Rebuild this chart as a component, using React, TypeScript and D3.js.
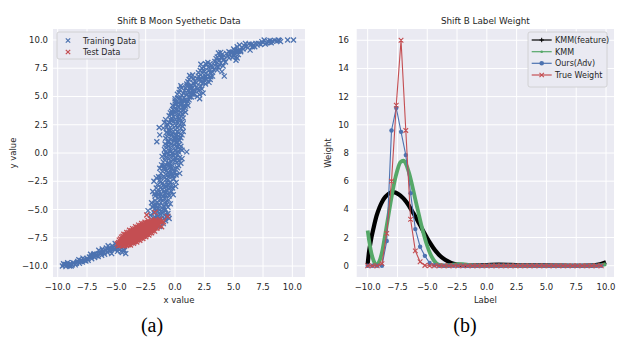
import React from 'react';
import * as d3 from 'd3';

// ---------- data ----------
const axisTicks = [-10, -7.5, -5, -2.5, 0, 2.5, 5, 7.5, 10];
const weightTicks = [0, 2, 4, 6, 8, 10, 12, 14, 16];

const trainPoints: [number, number][] = [
  [-9.6,-10.0],[-9.45,-9.9],[-9.3,-10.05],[-9.2,-9.85],[-9.05,-9.95],[-8.95,-9.8],[-8.85,-10.0],[-8.75,-9.9],[-9.5,-9.8],[-9.15,-9.7],[-8.6,-9.75],[-8.5,-9.9],
  [-8.3,-9.6],[-8.15,-9.75],[-8.0,-9.5],[-7.9,-9.65],[-7.75,-9.4],[-7.6,-9.55],[-7.5,-9.3],[-7.85,-9.3],[-8.2,-9.45],[-7.4,-9.5],
  [-7.3,-9.2],[-7.1,-9.35],[-7.0,-9.1],[-6.85,-9.25],[-6.7,-8.95],[-6.55,-9.15],[-6.4,-8.85],[-6.25,-9.05],[-6.1,-8.7],[-6.0,-8.95],[-6.9,-8.9],[-7.2,-8.95],[-6.5,-8.6],[-6.2,-8.5],
  [-5.9,-8.6],[-5.75,-8.8],[-5.6,-8.4],[-5.5,-8.65],[-5.35,-8.2],[-5.2,-8.5],[-5.1,-8.0],[-5.0,-8.3],[-5.7,-8.2],[-5.4,-8.9],[-4.9,-8.7],[-4.7,-8.55],[-4.5,-8.8],[-4.3,-8.6],[-4.2,-8.9],
  [-9.35,-9.85],[-9.0,-10.0],[-8.7,-9.7],[-8.4,-9.75],[-8.05,-9.6],[-7.7,-9.5],[-7.45,-9.4],[-7.15,-9.2],[-6.95,-9.0],[-6.75,-9.1],[-6.35,-8.95],[-6.05,-8.8],[-5.85,-8.4],[-5.55,-8.55],[-5.3,-8.4],[-5.05,-8.5],[-4.8,-8.4],[-4.6,-8.7],[-4.4,-8.55],
  [-4.6,-8.0],[-4.2,-7.8],[-3.8,-7.6],[-3.4,-7.3],[-3.0,-7.0],[-2.6,-6.7],[-2.2,-6.4],[-1.9,-6.1],[-4.4,-8.3],[-3.6,-7.9],[-2.8,-7.3],[-2.0,-6.8],[-1.6,-6.3],[-1.3,-6.5],[-1.1,-6.0],[-0.9,-5.8],[-1.7,-5.7],[-1.4,-5.9],
  [-1.9,-5.95],[-1.55,-5.85],[-1.2,-5.85],[-1.0,-6.25],[-0.8,-6.0],[-0.6,-5.6],
  [-2.1,-5.5],[-1.8,-5.3],[-1.5,-5.6],[-1.2,-5.2],[-0.9,-5.5],[-0.6,-5.35],[-1.6,-5.0],[-1.3,-5.7],[-1.0,-5.0],[-0.5,-5.8],[-2.3,-5.1],
  [-1.85,-5.75],[-1.55,-5.45],[-1.25,-5.45],[-0.95,-5.25],[-0.75,-5.65],[-1.45,-5.15],[-1.75,-4.95],[-1.1,-4.85],[-0.7,-4.55],[-1.5,-4.35],[-1.05,-4.25],[-0.55,-4.15],[-1.85,-4.6],[-1.35,-4.65],[-0.8,-5.0],
  [-1.9,-4.8],[-1.6,-4.6],[-1.4,-4.9],[-1.2,-4.4],[-1.0,-4.7],[-0.8,-4.3],[-0.6,-4.8],[-1.7,-4.2],[-1.3,-4.1],[-0.4,-4.5],[-2.0,-4.4],[-0.9,-4.0],
  [-1.7,-3.8],[-1.5,-3.5],[-1.3,-3.9],[-1.1,-3.2],[-0.9,-3.6],[-0.7,-3.3],[-0.5,-3.8],[-0.3,-3.4],[-1.6,-3.1],[-1.2,-3.6],[-0.8,-3.0],[-0.2,-3.1],[-1.9,-3.4],
  [-1.4,-3.7],[-1.0,-3.85],[-0.6,-3.6],[-0.4,-3.1],[-1.2,-3.05],[-0.95,-3.4],[-1.45,-3.25],[-0.75,-3.75],[-0.15,-3.7],[-1.75,-3.6],
  [-1.5,-2.8],[-1.3,-2.4],[-1.1,-2.7],[-0.9,-2.2],[-0.7,-2.6],[-0.5,-2.1],[-0.3,-2.8],[-0.1,-2.3],[-1.4,-2.1],[-0.8,-2.9],[-0.6,-2.4],[0.1,-2.6],[-1.8,-2.5],
  [-1.2,-2.55],[-1.0,-2.9],[-0.75,-2.35],[-0.4,-2.55],[-0.2,-2.05],[-1.25,-2.15],[-0.55,-2.85],[-0.95,-2.05],[0.05,-2.95],[-1.6,-2.2],
  [-1.2,-1.8],[-1.0,-1.4],[-0.8,-1.9],[-0.6,-1.2],[-0.4,-1.6],[-0.2,-1.1],[0.0,-1.7],[0.2,-1.3],[-0.9,-1.1],[-0.5,-1.9],[-0.3,-1.4],[0.4,-1.8],[-1.3,-1.35],
  [-1.05,-1.65],[-0.7,-1.55],[-0.45,-1.25],[-0.1,-1.45],[0.1,-1.95],[-0.85,-1.25],[-0.3,-1.85],[0.3,-1.1],[-1.15,-1.05],[-0.6,-1.75],
  [-1.0,-0.8],[-0.8,-0.4],[-0.6,-0.9],[-0.4,-0.2],[-0.2,-0.6],[0.0,-0.1],[0.2,-0.8],[0.4,-0.4],[-0.7,-0.05],[-0.3,-0.8],[0.1,-0.45],[0.5,-0.9],[-1.1,-0.3],
  [-0.85,-0.65],[-0.5,-0.5],[-0.15,-0.3],[0.25,-0.15],[-0.45,-0.95],[0.0,-0.7],[0.35,-0.65],[-0.9,-0.15],[-0.25,-0.05],[0.6,-0.5],
  [-0.9,0.3],[-0.7,0.7],[-0.5,0.2],[-0.3,0.8],[-0.1,0.4],[0.1,0.9],[0.3,0.1],[0.5,0.6],[-0.6,0.95],[-0.2,0.05],[0.2,0.5],[-0.8,0.1],[1.0,0.1],[0.6,0.25],
  [-0.75,0.45],[-0.4,0.5],[-0.05,0.7],[0.35,0.75],[-0.55,0.6],[0.05,0.2],[0.45,0.35],[-0.35,0.15],[0.15,0.65],[-0.85,0.8],
  [-0.8,1.3],[-0.6,1.7],[-0.4,1.2],[-0.2,1.8],[0.0,1.4],[0.2,1.9],[0.4,1.1],[0.6,1.6],[-0.5,1.95],[-0.1,1.05],[0.3,1.5],[-1.55,1.0],[-1.3,1.6],
  [-0.65,1.45],[-0.3,1.55],[0.1,1.65],[0.5,1.35],[-0.55,1.1],[-0.05,1.25],[0.35,1.8],[0.7,1.9],[-0.75,1.8],[0.15,1.15],
  [-0.7,2.3],[-0.5,2.7],[-0.3,2.1],[-0.1,2.8],[0.1,2.4],[0.3,2.9],[0.5,2.2],[0.7,2.6],[-0.4,2.95],[0.0,2.05],[0.4,2.5],[-1.35,2.25],[-0.9,2.7],[-1.0,2.2],
  [-0.6,2.5],[-0.2,2.45],[0.2,2.2],[0.6,2.75],[-0.25,2.85],[0.25,2.65],[0.65,2.35],[-0.55,2.05],[0.05,2.95],[-0.8,2.95],
  [-0.5,3.3],[-0.3,3.7],[-0.1,3.2],[0.1,3.8],[0.3,3.4],[0.5,3.9],[0.7,3.1],[0.9,3.6],[0.0,3.95],[0.4,3.05],[-0.2,3.5],[0.6,3.45],
  [-0.4,3.55],[0.0,3.55],[0.35,3.75],[0.75,3.8],[-0.3,3.1],[0.2,3.15],[0.55,3.25],[0.85,3.95],[-0.15,3.85],[0.45,3.6],
  [-0.2,4.2],[0.0,4.6],[0.2,4.1],[0.4,4.8],[0.6,4.3],[0.8,4.9],[1.0,4.4],[1.2,4.7],[0.3,4.45],[0.7,4.65],[1.4,4.95],[-0.1,4.1],[0.9,4.15],
  [0.1,4.35],[0.5,4.55],[0.85,4.7],[1.1,4.2],[0.25,4.85],[0.65,4.1],[1.25,4.95],[0.0,4.8],[0.45,4.25],[1.05,4.6],
  [0.2,5.2],[0.4,5.6],[0.6,5.1],[0.8,5.5],[1.0,5.9],[1.2,5.3],[1.4,5.7],[1.6,5.2],[1.8,5.8],[2.0,5.5],[2.2,5.9],[0.9,5.75],[1.5,5.45],[2.4,5.3],[0.5,5.95],[2.1,4.8],[1.9,5.0],
  [0.35,5.35],[0.7,5.3],[1.1,5.55],[1.3,5.95],[1.7,5.5],[2.1,5.15],[0.55,5.75],[0.95,5.15],[1.45,5.2],[1.95,5.7],[2.3,5.65],[1.25,5.75],
  [1.0,6.1],[1.2,6.5],[1.4,6.0],[1.6,6.6],[1.8,6.2],[2.0,6.8],[2.2,6.3],[2.4,6.7],[2.6,6.1],[2.8,6.9],[3.0,6.5],[1.5,6.9],[2.5,6.45],[3.2,6.8],[1.9,6.55],
  [1.1,6.3],[1.35,6.7],[1.7,6.35],[2.1,6.55],[2.35,6.2],[2.7,6.5],[2.9,6.25],[1.6,6.15],[2.2,6.9],[2.6,6.8],[1.25,6.85],[3.05,6.75],
  [2.0,7.1],[2.3,7.5],[2.5,7.2],[2.7,7.8],[2.9,7.3],[3.1,7.7],[3.3,7.4],[3.5,7.9],[3.7,7.6],[3.9,7.95],[2.8,8.0],[2.6,7.05],[4.1,7.7],[3.2,7.15],[4.2,6.8],[4.0,7.2],[2.2,7.85],
  [2.15,7.3],[2.45,7.6],[2.85,7.55],[3.25,7.6],[3.6,7.35],[3.8,7.8],[2.6,7.9],[3.0,7.9],[3.4,7.75],[2.4,7.3],[3.0,7.1],[3.6,8.0],
  [3.4,8.1],[3.6,8.5],[3.8,8.2],[4.0,8.7],[4.2,8.3],[4.4,8.8],[4.6,8.4],[4.8,8.9],[5.0,8.6],[5.2,9.0],[5.4,8.7],[4.3,8.05],[3.7,8.85],[5.6,8.95],[5.2,8.2],[5.3,8.4],
  [3.5,8.35],[3.9,8.45],[4.1,8.2],[4.5,8.55],[4.7,8.7],[4.9,8.45],[5.1,8.8],[4.2,8.6],[3.9,8.9],[4.6,8.95],[5.4,9.0],
  [5.0,9.2],[5.3,9.4],[5.6,9.1],[5.9,9.5],[6.2,9.3],[6.5,9.6],[6.8,9.4],[6.0,9.7],[5.5,9.55],[6.4,9.1],[7.0,9.55],
  [5.1,9.05],[5.7,9.35],[6.1,9.45],[6.6,9.4],[6.3,9.65],[6.9,9.7],[7.3,9.6],[7.8,9.75],[8.3,9.9],[5.8,9.2],[6.7,9.55],[7.5,9.75],[8.1,9.95],[8.9,9.95],
  [7.1,9.7],[7.4,9.85],[7.7,9.65],[7.9,9.9],[8.2,9.75],[8.5,9.95],[8.8,10.0],[9.0,9.85],[7.6,10.0],[8.0,9.8],[8.7,9.9],[9.6,10.0],[10.1,10.0],
];

const testPoints: [number, number][] = [
  [-4.81,-8.21],[-4.91,-8.03],
  [-4.45,-8.23],[-4.55,-8.05],[-4.65,-7.88],[-4.75,-7.71],
  [-4.12,-8.19],[-4.23,-8.0],[-4.34,-7.82],[-4.45,-7.63],[-4.56,-7.44],
  [-3.8,-8.14],[-3.91,-7.95],[-4.03,-7.76],[-4.14,-7.57],[-4.25,-7.38],[-4.36,-7.19],
  [-3.54,-7.98],[-3.66,-7.79],[-3.77,-7.6],[-3.88,-7.41],[-3.99,-7.23],[-4.11,-7.04],
  [-3.26,-7.87],[-3.38,-7.67],[-3.51,-7.46],[-3.63,-7.25],[-3.75,-7.05],[-3.87,-6.84],
  [-3.0,-7.72],[-3.12,-7.51],[-3.25,-7.31],[-3.37,-7.1],[-3.49,-6.89],[-3.61,-6.69],
  [-2.74,-7.57],[-2.87,-7.36],[-2.99,-7.15],[-3.11,-6.95],[-3.23,-6.74],[-3.36,-6.53],
  [-2.49,-7.41],[-2.61,-7.21],[-2.73,-7.0],[-2.85,-6.79],[-2.98,-6.59],[-3.1,-6.38],
  [-2.23,-7.26],[-2.35,-7.05],[-2.47,-6.85],[-2.6,-6.64],[-2.72,-6.43],[-2.84,-6.23],
  [-2.0,-7.06],[-2.11,-6.88],[-2.22,-6.69],[-2.33,-6.5],[-2.44,-6.31],[-2.56,-6.12],
  [-1.74,-6.91],[-1.85,-6.72],[-1.96,-6.53],[-2.07,-6.34],[-2.19,-6.15],[-2.3,-5.97],
  [-1.54,-6.66],[-1.65,-6.47],[-1.76,-6.29],[-1.87,-6.1],[-1.98,-5.91],
  [-1.35,-6.39],[-1.45,-6.22],[-1.55,-6.05],[-1.65,-5.87],
  [-1.19,-6.07],[-1.29,-5.89],
  [-4.65,-8.17],[-4.8,-7.92],
  [-4.3,-8.18],[-4.41,-7.99],[-4.53,-7.8],[-4.64,-7.61],
  [-3.99,-8.12],[-4.1,-7.93],[-4.21,-7.74],[-4.32,-7.55],[-4.44,-7.36],
  [-3.73,-7.96],[-3.84,-7.78],[-3.95,-7.59],[-4.06,-7.4],[-4.18,-7.21],
  [-3.45,-7.85],[-3.57,-7.64],[-3.7,-7.43],[-3.82,-7.23],[-3.94,-7.02],
  [-3.19,-7.69],[-3.32,-7.49],[-3.44,-7.28],[-3.56,-7.07],[-3.68,-6.87],
  [-2.93,-7.54],[-3.06,-7.33],[-3.18,-7.13],[-3.3,-6.92],[-3.42,-6.71],
  [-2.68,-7.39],[-2.8,-7.18],[-2.92,-6.97],[-3.04,-6.77],[-3.17,-6.56],
  [-2.42,-7.23],[-2.54,-7.03],[-2.66,-6.82],[-2.79,-6.62],[-2.91,-6.41],
  [-2.16,-7.08],[-2.28,-6.87],[-2.41,-6.67],[-2.53,-6.46],[-2.65,-6.26],
  [-1.92,-6.89],[-2.03,-6.7],[-2.15,-6.52],[-2.26,-6.33],[-2.37,-6.14],
  [-1.72,-6.65],[-1.83,-6.46],[-1.95,-6.27],[-2.06,-6.08],
  [-1.52,-6.4],[-1.63,-6.21],[-1.74,-6.02],
  [-1.37,-6.06],
  [-1.7,-5.25],[-2.41,-5.49],[-0.63,-5.63],[-0.99,-6.08],[-1.14,-6.52],
];

const labelGrid = [-10,-9.6,-9.2,-8.8,-8.4,-8,-7.6,-7.2,-6.8,-6.4,-6,-5.6,-5.2,-4.8,-4.4,-4,-3.6,-3.2,-2.8,-2.4,-2,-1.6,-1.2,-0.8,-0.4,0,0.4,0.8,1.2,1.6,2,2.4,2.8,3.2,3.6,4,4.4,4.8,5.2,5.6,6,6.4,6.8,7.2,7.6,8,8.4,8.8,9.2,9.6];
const oursWeight = [0,0,0,0,1.75,9.6,11.2,9.5,7.85,5.15,2.6,1.35,0.7,0.19,0.03,0,0,0,0,0,0,0,0,0,0,0,0,0,0,0,0,0,0,0,0,0,0,0,0,0,0,0,0,0,0,0,0,0,0,0];
const trueWeight = [0,0,0,0.15,2.3,6.0,11.4,16.0,9.6,3.3,1.05,0.28,0.02,0,0,0,0,0,0,0,0,0,0,0,0,0,0,0,0,0,0,0,0,0,0,0,0,0,0,0,0,0,0,0,0,0,0,0,0,0];

const kmmGrid = [-10,-9.9,-9.75,-9.5,-9.25,-9,-8.75,-8.5,-8.25,-8,-7.75,-7.5,-7.25,-7,-6.75,-6.5,-6.25,-6,-5.75,-5.5,-5.25,-5,-4.75,-4.5,-4.25,-4,-3.5,-3,-2.5,-2,-1.5,-1,0,1,2,3,4,5,6,7,8,9,9.5,10];
const kmmFeatureWeight = [0.1,0.9,1.7,2.7,3.55,4.15,4.6,4.9,5.1,5.2,5.2,5.12,4.98,4.78,4.52,4.2,3.85,3.5,3.1,2.72,2.33,1.95,1.6,1.28,1.0,0.76,0.42,0.2,0.09,0.04,0.02,0.02,0.05,0.08,0.06,0.03,0.02,0.02,0.01,0,0,0.03,0.1,0.25];
const kmmWeight = [2.5,1.9,1.15,0.35,0.05,0.35,1.15,2.35,3.6,4.85,5.95,6.8,7.35,7.45,7.15,6.5,5.65,4.7,3.8,2.9,2.1,1.4,0.85,0.45,0.18,0.06,0,0.05,0.12,0.12,0.06,0.02,0,0,0,0,0,0,0,0,0,0,0.03,0.12];

// ---------- style ----------
const FONT = 'DejaVu Sans, sans-serif';
const TXT = '#262626';
const BG = '#EAEAF2';
const BLUE = '#4C72B0';
const RED = '#C44E52';
const GREEN = '#55A868';

const fmt1 = (v: number) => (v < 0 ? '\u2212' : '') + Math.abs(v).toFixed(1);

const xMark = (cx: number, cy: number, s: number) =>
  `M${cx - s},${cy - s}L${cx + s},${cy + s}M${cx - s},${cy + s}L${cx + s},${cy - s}`;
const plusMark = (cx: number, cy: number, s: number) =>
  `M${cx - s},${cy}L${cx + s},${cy}M${cx},${cy - s}L${cx},${cy + s}`;

export default function App() {
  // left panel
  const xL = d3.scaleLinear().domain([-10.4, 11.08]).range([53, 305]);
  const yL = d3.scaleLinear().domain([-10.97, 10.97]).range([277, 29]);
  // right panel
  const xR = d3.scaleLinear().domain([-10.92, 10.67]).range([356.7, 614]);
  const yR = d3.scaleLinear().domain([-0.8, 16.8]).range([277, 29]);

  const trainPath = trainPoints.map(([x, y]) => xMark(xL(x), yL(y), 2.5)).join('');
  const testPath = testPoints.map(([x, y]) => xMark(xL(x), yL(y), 2.5)).join('');

  const kmmLine = d3.line<number>().x((_, i) => xR(kmmGrid[i])).y(d => yR(d)).curve(d3.curveMonotoneX);
  const gridLine = d3.line<number>().x((_, i) => xR(labelGrid[i])).y(d => yR(d));

  const trueMarks = trueWeight.map((d, i) => xMark(xR(labelGrid[i]), yR(d), 2.3)).join('');

  const [lx0, lx1] = xL.range();
  const [ly0, ly1] = yL.range();
  const [rx0, rx1] = xR.range();
  const [ry0, ry1] = yR.range();

  return (
    <svg width={621} height={337} style={{ position: 'absolute', left: 0, top: 0, background: '#fff' }} fontFamily={FONT}>
      {/* ---------- Left panel ---------- */}
      <rect x={lx0} y={ly1} width={lx1 - lx0} height={ly0 - ly1} fill={BG} />
      {axisTicks.map(t => (
        <line key={'lgx' + t} x1={xL(t)} x2={xL(t)} y1={ly1} y2={ly0} stroke="#fff" strokeWidth={1} />
      ))}
      {axisTicks.map(t => (
        <line key={'lgy' + t} x1={lx0} x2={lx1} y1={yL(t)} y2={yL(t)} stroke="#fff" strokeWidth={1} />
      ))}
      <path d={trainPath} stroke={BLUE} strokeWidth={1.3} fill="none" />
      <path d={testPath} stroke={RED} strokeWidth={1.3} fill="none" />
      {axisTicks.map(t => (
        <text key={'ltx' + t} x={xL(t)} y={290} fontSize={8.5} fill={TXT} textAnchor="middle">{fmt1(t)}</text>
      ))}
      {axisTicks.map(t => (
        <text key={'lty' + t} x={48} y={yL(t) + 3} fontSize={8.5} fill={TXT} textAnchor="end">{fmt1(t)}</text>
      ))}
      <text x={(lx0 + lx1) / 2} y={24} fontSize={8.8} fill={TXT} textAnchor="middle">Shift B Moon Syethetic Data</text>
      <text x={(lx0 + lx1) / 2} y={303} fontSize={8.5} fill={TXT} textAnchor="middle">x value</text>
      <text transform={`translate(16,${(ly0 + ly1) / 2}) rotate(-90)`} fontSize={8.5} fill={TXT} textAnchor="middle">y value</text>
      {/* left legend */}
      <rect x={57} y={32} width={82} height={27} fill={BG} stroke="#cccccc" strokeWidth={0.8} rx={2} />
      <path d={xMark(68, 40.5, 2.2)} stroke={BLUE} strokeWidth={1.2} />
      <text x={83} y={43.5} fontSize={8} fill={TXT}>Training Data</text>
      <path d={xMark(68, 52, 2.2)} stroke={RED} strokeWidth={1.2} />
      <text x={83} y={55} fontSize={8} fill={TXT}>Test Data</text>

      {/* ---------- Right panel ---------- */}
      <rect x={rx0} y={ry1} width={rx1 - rx0} height={ry0 - ry1} fill={BG} />
      {axisTicks.map(t => (
        <line key={'rgx' + t} x1={xR(t)} x2={xR(t)} y1={ry1} y2={ry0} stroke="#fff" strokeWidth={1} />
      ))}
      {weightTicks.map(t => (
        <line key={'rgy' + t} x1={rx0} x2={rx1} y1={yR(t)} y2={yR(t)} stroke="#fff" strokeWidth={1} />
      ))}
      <path d={kmmLine(kmmFeatureWeight) || ''} stroke="#000" strokeWidth={4.2} fill="none" strokeLinejoin="round" />
      <path d={kmmLine(kmmWeight) || ''} stroke={GREEN} strokeWidth={3.8} fill="none" strokeLinejoin="round" />
      <path d={gridLine(oursWeight) || ''} stroke={BLUE} strokeWidth={1.1} fill="none" />
      {oursWeight.map((d, i) => (
        <circle key={'ow' + i} cx={xR(labelGrid[i])} cy={yR(d)} r={2.2} fill={BLUE} />
      ))}
      <path d={gridLine(trueWeight) || ''} stroke={RED} strokeWidth={1.1} fill="none" />
      <path d={trueMarks} stroke={RED} strokeWidth={1.1} fill="none" />
      {axisTicks.map(t => (
        <text key={'rtx' + t} x={xR(t)} y={290} fontSize={8.5} fill={TXT} textAnchor="middle">{fmt1(t)}</text>
      ))}
      {weightTicks.map(t => (
        <text key={'rty' + t} x={349} y={yR(t) + 3} fontSize={8.5} fill={TXT} textAnchor="end">{String(t)}</text>
      ))}
      <text x={(rx0 + rx1) / 2} y={24} fontSize={8.8} fill={TXT} textAnchor="middle">Shift B Label Weight</text>
      <text x={(rx0 + rx1) / 2} y={303} fontSize={8.5} fill={TXT} textAnchor="middle">Label</text>
      <text transform={`translate(331,${(ry0 + ry1) / 2}) rotate(-90)`} fontSize={8.5} fill={TXT} textAnchor="middle">Weight</text>
      {/* right legend */}
      <rect x={528} y={32} width={79} height={55} fill={BG} stroke="#cccccc" strokeWidth={0.8} rx={2} />
      <line x1={531.7} x2={551.7} y1={40} y2={40} stroke="#000" strokeWidth={1.2} />
      <path d={plusMark(541.7, 40, 2.2)} stroke="#000" strokeWidth={1} />
      <text x={555} y={43} fontSize={8} fill={TXT}>KMM(feature)</text>
      <line x1={531.7} x2={551.7} y1={51.7} y2={51.7} stroke={GREEN} strokeWidth={1.2} />
      <circle cx={541.7} cy={51.7} r={1.3} fill={GREEN} />
      <text x={555} y={54.7} fontSize={8} fill={TXT}>KMM</text>
      <line x1={531.7} x2={551.7} y1={63.3} y2={63.3} stroke={BLUE} strokeWidth={1.2} />
      <circle cx={541.7} cy={63.3} r={2.3} fill={BLUE} />
      <text x={555} y={66.3} fontSize={8} fill={TXT}>Ours(Adv)</text>
      <line x1={531.7} x2={551.7} y1={75} y2={75} stroke={RED} strokeWidth={1.2} />
      <path d={xMark(541.7, 75, 2.2)} stroke={RED} strokeWidth={1.1} />
      <text x={555} y={78} fontSize={8} fill={TXT}>True Weight</text>

      {/* ---------- captions ---------- */}
      <text x={152} y={332} fontSize={20} fontFamily="Liberation Serif, Times New Roman, serif" fill="#000" textAnchor="middle">(a)</text>
      <text x={465} y={332} fontSize={20} fontFamily="Liberation Serif, Times New Roman, serif" fill="#000" textAnchor="middle">(b)</text>
    </svg>
  );
}
